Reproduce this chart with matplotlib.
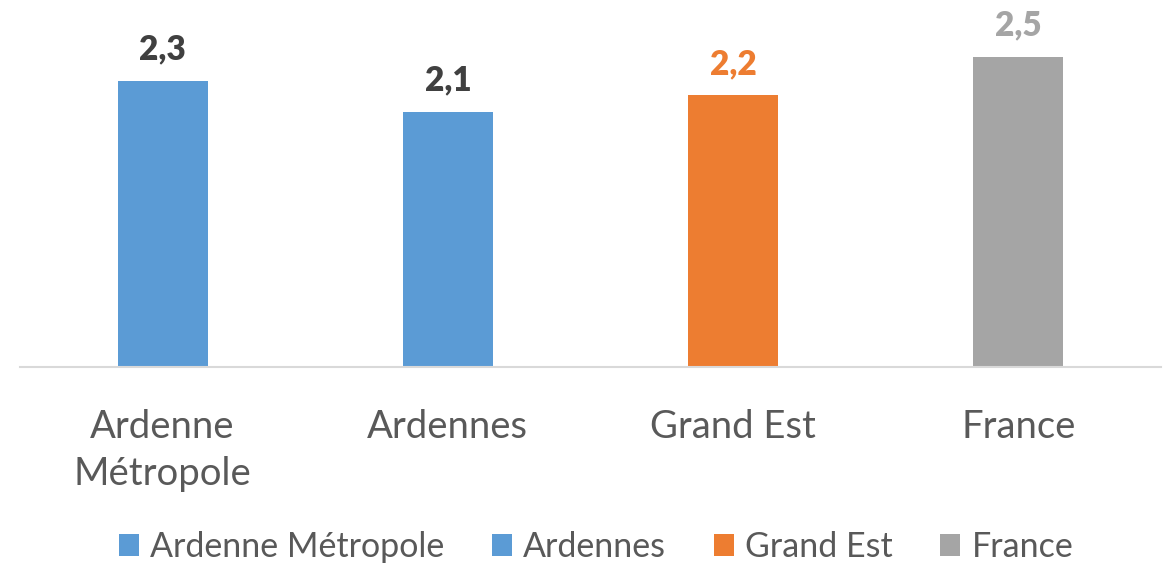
import matplotlib
matplotlib.use("Agg")
import matplotlib.pyplot as plt
from matplotlib.patches import Patch

categories = ["Ardenne\nMétropole", "Ardennes", "Grand Est", "France"]
legend_labels = ["Ardenne Métropole", "Ardennes", "Grand Est", "France"]
values = [2.31, 2.06, 2.19, 2.50]
bar_colors = ["#5B9BD5", "#5B9BD5", "#ED7D31", "#A5A5A5"]
label_colors = ["#404040", "#404040", "#ED7D31", "#A5A5A5"]

plt.rcParams['font.family'] = ['Lato', 'DejaVu Sans']

fig = plt.figure(figsize=(11.68, 5.66), dpi=100)
ax = fig.add_axes([20/1168, 199/566, 1141/1168, 367/566])

x = list(range(len(values)))
ax.bar(x, values, width=0.315, color=bar_colors, zorder=2)
ax.set_xlim(-0.5, len(values) - 0.5)
ax.set_ylim(0, 367/124)

for xi, v, c in zip(x, values, label_colors):
    ax.annotate(f"{v:.1f}".replace(".", ","), (xi, v), xytext=(0, 11),
                textcoords="offset points", ha="center", va="bottom",
                fontsize=24, fontweight="heavy", color=c)

for s in ["top", "left", "right"]:
    ax.spines[s].set_visible(False)
ax.spines["bottom"].set_color("#D9D9D9")
ax.spines["bottom"].set_linewidth(1.5)
ax.set_yticks([])
ax.set_xticks(x)
ax.set_xticklabels(categories, fontsize=27.5, color="#595959", linespacing=1.4)
ax.tick_params(axis="x", length=0, pad=30)

handles = [Patch(facecolor=c) for c in bar_colors]
fig.legend(handles, legend_labels, loc="center", bbox_to_anchor=(596/1168, 19/566),
           ncol=4, frameon=False, fontsize=24.5, labelcolor="#595959",
           handlelength=0.59, handleheight=0.59, handletextpad=0.33, columnspacing=1.4)

fig.savefig("out.png", dpi=100)
